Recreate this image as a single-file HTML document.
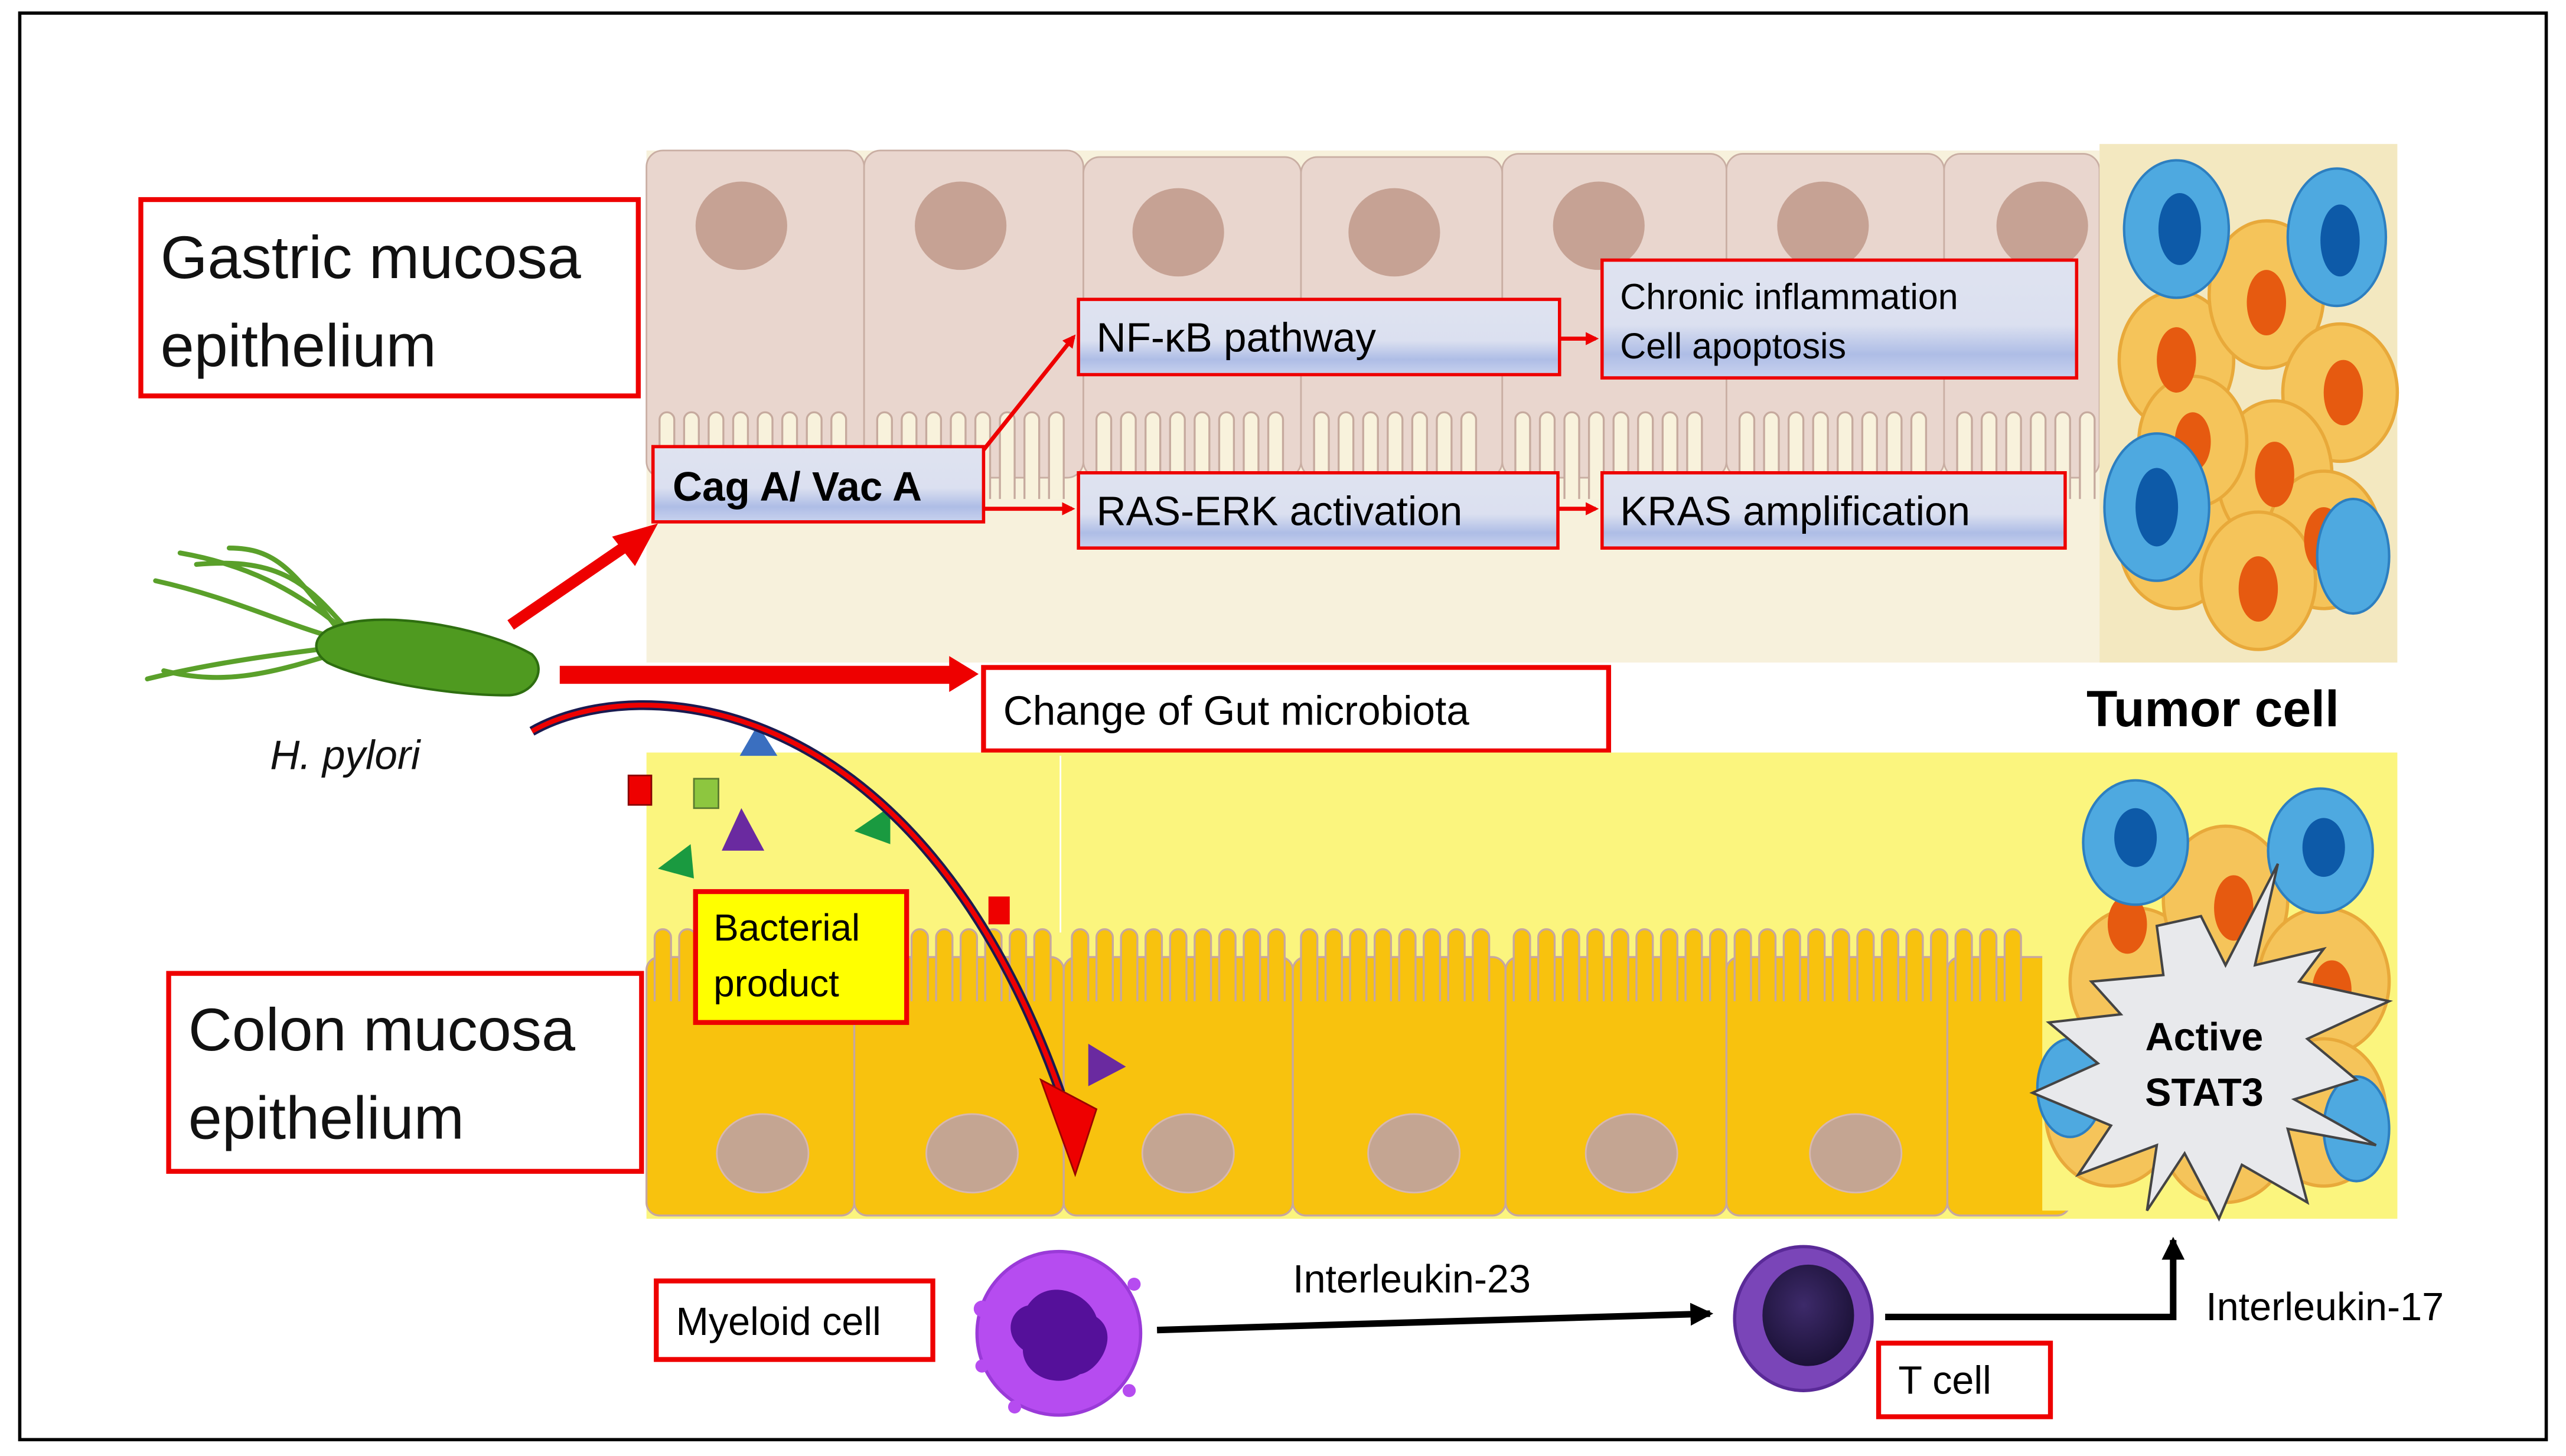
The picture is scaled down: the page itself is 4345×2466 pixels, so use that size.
<!DOCTYPE html>
<html><head><meta charset="utf-8"><style>
html,body{margin:0;padding:0;background:#fff;}
svg{display:block;}
text{font-family:"Liberation Sans",sans-serif;}
</style></head><body>
<svg width="4345" height="2466" viewBox="0 0 1568 890" xmlns="http://www.w3.org/2000/svg">
<defs>
<linearGradient id="bg" x1="0" y1="0" x2="0" y2="1">
<stop offset="0" stop-color="#dfe3f0"/><stop offset="0.55" stop-color="#dbe0f0"/><stop offset="0.8" stop-color="#aebde6"/><stop offset="1" stop-color="#c9d2ee"/></linearGradient>
<radialGradient id="tc" cx="0.45" cy="0.4" r="0.6"><stop offset="0" stop-color="#3d2a6a"/><stop offset="1" stop-color="#1c1238"/></radialGradient>
<marker id="ah" markerWidth="8" markerHeight="8" refX="6" refY="4" orient="auto" markerUnits="userSpaceOnUse"><path d="M0,0 L8,4 L0,8z" fill="#e00"/></marker>
<marker id="ak" markerWidth="14" markerHeight="14" refX="12" refY="7" orient="auto" markerUnits="userSpaceOnUse"><path d="M0,0 L14,7 L0,14z" fill="#000"/></marker>
</defs>
<rect x="0" y="0" width="1568" height="890" fill="#fff"/>
<rect x="12" y="8" width="1544" height="872" fill="none" stroke="#000" stroke-width="2"/>

<!-- gastric region -->
<rect x="395" y="92" width="888" height="313" fill="#f7f1dc"/>
<g fill="#e9d6ce" stroke="#c9aea3" stroke-width="1">
<rect x="395" y="92" width="133" height="200" rx="10"/>
<rect x="528" y="92" width="134" height="200" rx="10"/>
<rect x="662" y="96" width="133" height="196" rx="10"/>
<rect x="795" y="96" width="123" height="196" rx="10"/>
<rect x="918" y="94" width="137" height="198" rx="10"/>
<rect x="1055" y="94" width="133" height="198" rx="10"/>
<rect x="1188" y="94" width="95" height="198" rx="10"/>
</g>
<g fill="#c6a294">
<ellipse cx="453" cy="138" rx="28" ry="27"/><ellipse cx="587" cy="138" rx="28" ry="27"/>
<ellipse cx="720" cy="142" rx="28" ry="27"/><ellipse cx="852" cy="142" rx="28" ry="27"/>
<ellipse cx="977" cy="138" rx="28" ry="27"/><ellipse cx="1114" cy="138" rx="28" ry="27"/>
<ellipse cx="1248" cy="138" rx="28" ry="27"/>
</g>
<g id="villi" fill="#f8f2dc" stroke="#c6aa9e" stroke-width="1.2"></g>

<!-- tumor top -->
<rect x="1283" y="88" width="182" height="317" fill="#f3e8c0"/>
<g stroke="#e8a93a" stroke-width="2">
<g fill="#f5c45a">
<ellipse cx="1330" cy="220" rx="35" ry="42"/><ellipse cx="1385" cy="180" rx="35" ry="45"/>
<ellipse cx="1430" cy="240" rx="35" ry="42"/><ellipse cx="1330" cy="330" rx="35" ry="42"/>
<ellipse cx="1390" cy="290" rx="35" ry="45"/><ellipse cx="1420" cy="330" rx="35" ry="42"/>
<ellipse cx="1380" cy="355" rx="35" ry="42"/><ellipse cx="1340" cy="270" rx="33" ry="40"/>
</g></g>
<g fill="#e65a10">
<ellipse cx="1330" cy="220" rx="12" ry="20"/><ellipse cx="1385" cy="185" rx="12" ry="20"/>
<ellipse cx="1432" cy="240" rx="12" ry="20"/><ellipse cx="1390" cy="290" rx="12" ry="20"/>
<ellipse cx="1420" cy="330" rx="12" ry="20"/><ellipse cx="1380" cy="360" rx="12" ry="20"/>
<ellipse cx="1340" cy="270" rx="11" ry="18"/>
</g>
<g fill="#4ea9e0" stroke="#2d7fc0" stroke-width="1.5">
<ellipse cx="1330" cy="140" rx="32" ry="42"/><ellipse cx="1428" cy="145" rx="30" ry="42"/>
<ellipse cx="1318" cy="310" rx="32" ry="45"/><ellipse cx="1438" cy="340" rx="22" ry="35"/>
</g>
<g fill="#0d5aa8"><ellipse cx="1332" cy="140" rx="13" ry="22"/><ellipse cx="1430" cy="147" rx="12" ry="22"/><ellipse cx="1318" cy="310" rx="13" ry="24"/></g>

<!-- gastric label -->
<rect x="86" y="122" width="304" height="120" fill="#fff" stroke="#e00" stroke-width="3"/>
<text x="98" y="170" font-size="37" fill="#111">Gastric mucosa</text>
<text x="98" y="224" font-size="37" fill="#111">epithelium</text>

<!-- pathway boxes -->
<g stroke="#e00" stroke-width="2" fill="url(#bg)">
<rect x="399" y="273" width="202" height="46"/>
<rect x="659" y="183" width="294" height="46"/>
<rect x="979" y="159" width="290" height="72"/>
<rect x="659" y="289" width="293" height="46"/>
<rect x="979" y="289" width="283" height="46"/>
</g>
<text x="411" y="306" font-size="25" font-weight="bold" fill="#000">Cag A/ Vac A</text>
<text x="670" y="215" font-size="25" fill="#000">NF-κB pathway</text>
<text x="990" y="189" font-size="22" fill="#000">Chronic inflammation</text>
<text x="990" y="219" font-size="22" fill="#000">Cell apoptosis</text>
<text x="670" y="321" font-size="25" fill="#000">RAS-ERK activation</text>
<text x="990" y="321" font-size="25" fill="#000">KRAS amplification</text>
<g stroke="#e00" stroke-width="2.5">
<line x1="601" y1="275" x2="656" y2="206" marker-end="url(#ah)"/>
<line x1="601" y1="311" x2="655" y2="311" marker-end="url(#ah)"/>
<line x1="953" y1="207" x2="975" y2="207" marker-end="url(#ah)"/>
<line x1="952" y1="311" x2="975" y2="311" marker-end="url(#ah)"/>
</g>

<!-- change box -->
<rect x="601" y="408" width="382" height="51" fill="#fff" stroke="#e00" stroke-width="3"/>
<text x="613" y="443" font-size="25" fill="#000">Change of Gut microbiota</text>
<text x="1275" y="444" font-size="31" font-weight="bold" fill="#000">Tumor cell</text>

<!-- colon region -->
<rect x="395" y="460" width="1070" height="285" fill="#fbf57e"/>
<line x1="648" y1="462" x2="648" y2="570" stroke="#fff" stroke-width="1"/>
<g fill="#f8c20e" stroke="#c6a7a0" stroke-width="1.2">
<rect x="395" y="585" width="127" height="158" rx="8"/>
<rect x="522" y="585" width="128" height="158" rx="8"/>
<rect x="650" y="585" width="140" height="158" rx="8"/>
<rect x="790" y="585" width="130" height="158" rx="8"/>
<rect x="920" y="585" width="135" height="158" rx="8"/>
<rect x="1055" y="585" width="135" height="158" rx="8"/>
<rect x="1190" y="585" width="75" height="158" rx="8"/>
</g>
<g id="cvilli" fill="#f8c20e" stroke="#c6a7a0" stroke-width="1.2"></g>
<g fill="#c4a592" stroke="#d8b8b0" stroke-width="1">
<ellipse cx="466" cy="705" rx="28" ry="24"/><ellipse cx="594" cy="705" rx="28" ry="24"/>
<ellipse cx="726" cy="705" rx="28" ry="24"/><ellipse cx="864" cy="705" rx="28" ry="24"/>
<ellipse cx="997" cy="705" rx="28" ry="24"/><ellipse cx="1134" cy="705" rx="28" ry="24"/>
</g>

<!-- tumor bottom -->
<rect x="1248" y="480" width="217" height="260" fill="#fbf57e"/>
<g stroke="#e8a93a" stroke-width="2" fill="#f5c45a">
<ellipse cx="1305" cy="600" rx="40" ry="45"/><ellipse cx="1360" cy="550" rx="38" ry="45"/>
<ellipse cx="1420" cy="600" rx="40" ry="45"/><ellipse cx="1290" cy="680" rx="40" ry="45"/>
<ellipse cx="1360" cy="690" rx="40" ry="45"/><ellipse cx="1420" cy="680" rx="38" ry="45"/>
</g>
<g fill="#e65a10"><ellipse cx="1300" cy="565" rx="12" ry="18"/><ellipse cx="1365" cy="555" rx="12" ry="20"/><ellipse cx="1425" cy="605" rx="12" ry="18"/></g>
<g fill="#4ea9e0" stroke="#2d7fc0" stroke-width="1.5">
<ellipse cx="1305" cy="515" rx="32" ry="38"/><ellipse cx="1418" cy="520" rx="32" ry="38"/>
<ellipse cx="1265" cy="665" rx="20" ry="30"/><ellipse cx="1440" cy="690" rx="20" ry="32"/>
</g>
<g fill="#0d5aa8"><ellipse cx="1305" cy="512" rx="13" ry="18"/><ellipse cx="1420" cy="518" rx="13" ry="18"/></g>
<polygon points="1345,560 1360,590 1392,528 1378,590 1420,580 1405,600 1460,612 1410,635 1440,660 1402,672 1452,700 1398,690 1410,735 1370,712 1356,745 1335,705 1312,740 1318,700 1270,718 1290,688 1242,668 1282,650 1252,625 1296,620 1278,600 1322,596 1318,566" fill="#e8e9ec" stroke="#444" stroke-width="1.5"/>
<text x="1347" y="642" font-size="24" font-weight="bold" text-anchor="middle" fill="#000">Active</text>
<text x="1347" y="676" font-size="24" font-weight="bold" text-anchor="middle" fill="#000">STAT3</text>

<!-- colon label -->
<rect x="103" y="595" width="289" height="121" fill="#fff" stroke="#e00" stroke-width="3"/>
<text x="115" y="642" font-size="37" fill="#111">Colon mucosa</text>
<text x="115" y="696" font-size="37" fill="#111">epithelium</text>

<rect x="425" y="545" width="129" height="80" fill="#ffff00" stroke="#e00" stroke-width="3"/>
<text x="436" y="575" font-size="23" fill="#000">Bacterial</text>
<text x="436" y="609" font-size="23" fill="#000">product</text>

<!-- bacterial product shapes -->
<rect x="384" y="474" width="14" height="18" fill="#e00" stroke="#800" stroke-width="1"/>
<rect x="424" y="476" width="15" height="18" fill="#8dc63f" stroke="#5a7a30" stroke-width="1"/>
<rect x="604" y="548" width="13" height="17" fill="#e00"/>
<polygon points="463,443 452,462 475,462" fill="#3a6fc0"/>
<polygon points="453,494 441,520 467,520" fill="#6a2aa0"/>
<polygon points="544,493 522,508 544,516" fill="#1a9a40"/>
<polygon points="422,516 402,531 424,537" fill="#1a9a40"/>
<polygon points="665,638 665,664 688,652" fill="#6a2aa0"/>

<!-- red arrows from H pylori -->
<line x1="312" y1="382" x2="385" y2="332" stroke="#e00" stroke-width="7"/>
<polygon points="402,320 374,328 388,346" fill="#e00"/>
<rect x="342" y="407" width="240" height="11" fill="#e00"/>
<polygon points="598,412 580,401 580,423" fill="#e00"/>
<path d="M325,447 C390,410 560,420 648,668" fill="none" stroke="#1a1a50" stroke-width="6"/>
<path d="M325,447 C390,410 560,420 648,668" fill="none" stroke="#e00" stroke-width="3"/>
<polygon points="636,660 670,678 657,718" fill="#e00" stroke="#900" stroke-width="1"/>

<!-- H pylori -->
<g fill="none" stroke="#5aa02a" stroke-width="3" stroke-linecap="round">
<path d="M210,385 C180,360 150,345 110,338"/><path d="M205,390 C170,380 140,365 95,355"/>
<path d="M210,395 C170,400 130,405 90,415"/><path d="M212,392 C180,350 170,335 140,335"/>
<path d="M215,388 C190,360 175,340 120,345"/><path d="M210,398 C170,410 140,420 100,410"/>
</g>
<path d="M200,385 C230,370 300,385 325,400 C335,410 325,425 310,425 C270,425 220,415 200,405 C190,398 192,390 200,385z" fill="#4f9a20" stroke="#2e6e10" stroke-width="1.5"/>
<text x="165" y="470" font-size="25" font-style="italic" fill="#111">H. pylori</text>

<!-- bottom immune -->
<rect x="401" y="783" width="169" height="48" fill="#fff" stroke="#e00" stroke-width="3"/>
<text x="413" y="816" font-size="24" fill="#000">Myeloid cell</text>
<ellipse cx="647" cy="815" rx="50" ry="50" fill="#b64cf0" stroke="#9a3ad8" stroke-width="2"/>
<circle cx="600" cy="800" r="5" fill="#b64cf0"/><circle cx="693" cy="785" r="4" fill="#b64cf0"/><circle cx="690" cy="850" r="4" fill="#b64cf0"/><circle cx="620" cy="860" r="4" fill="#b64cf0"/><circle cx="600" cy="835" r="4" fill="#b64cf0"/>
<path d="M628,798 C640,780 665,790 670,805 C685,815 672,838 660,840 C645,850 625,840 625,825 C612,815 618,800 628,798z" fill="#55109a"/>
<line x1="707" y1="813" x2="1045" y2="803" stroke="#000" stroke-width="4" marker-end="url(#ak)"/>
<text x="790" y="790" font-size="24" fill="#000">Interleukin-23</text>
<ellipse cx="1102" cy="806" rx="42" ry="44" fill="#7a45b8" stroke="#5a2a98" stroke-width="2"/>
<ellipse cx="1105" cy="804" rx="28" ry="31" fill="url(#tc)"/>
<polyline points="1152,805 1328,805 1328,758" fill="none" stroke="#000" stroke-width="4" marker-end="url(#ak)"/>
<text x="1348" y="807" font-size="24" fill="#000">Interleukin-17</text>
<rect x="1148" y="821" width="105" height="45" fill="#fff" stroke="#e00" stroke-width="3"/>
<text x="1160" y="852" font-size="24" fill="#000">T cell</text>
</svg>
<script>
(function(){
var ns="http://www.w3.org/2000/svg";
function villi(g,x0,x1,y0,y1,step,w){
 for(var x=x0;x+w<=x1;x+=step){
  var p=document.createElementNS(ns,"path");
  p.setAttribute("d","M"+x+","+y1+" L"+x+","+(y0+w/2)+" A"+(w/2)+","+(w/2)+" 0 0 1 "+(x+w)+","+(y0+w/2)+" L"+(x+w)+","+y1);
  g.appendChild(p);
 }
}
var g=document.getElementById("villi");
var segs=[[403,522],[536,658],[670,792],[803,914],[926,1052],[1063,1185],[1196,1282]];
segs.forEach(function(s){villi(g,s[0],s[1],252,305,15,9);});
var c=document.getElementById("cvilli");
var cs=[[400,522],[527,650],[655,790],[795,920],[925,1055],[1060,1190],[1195,1248]];
cs.forEach(function(s){villi(c,s[0],s[1],568,612,15,10);});
})();
</script>
</body></html>
